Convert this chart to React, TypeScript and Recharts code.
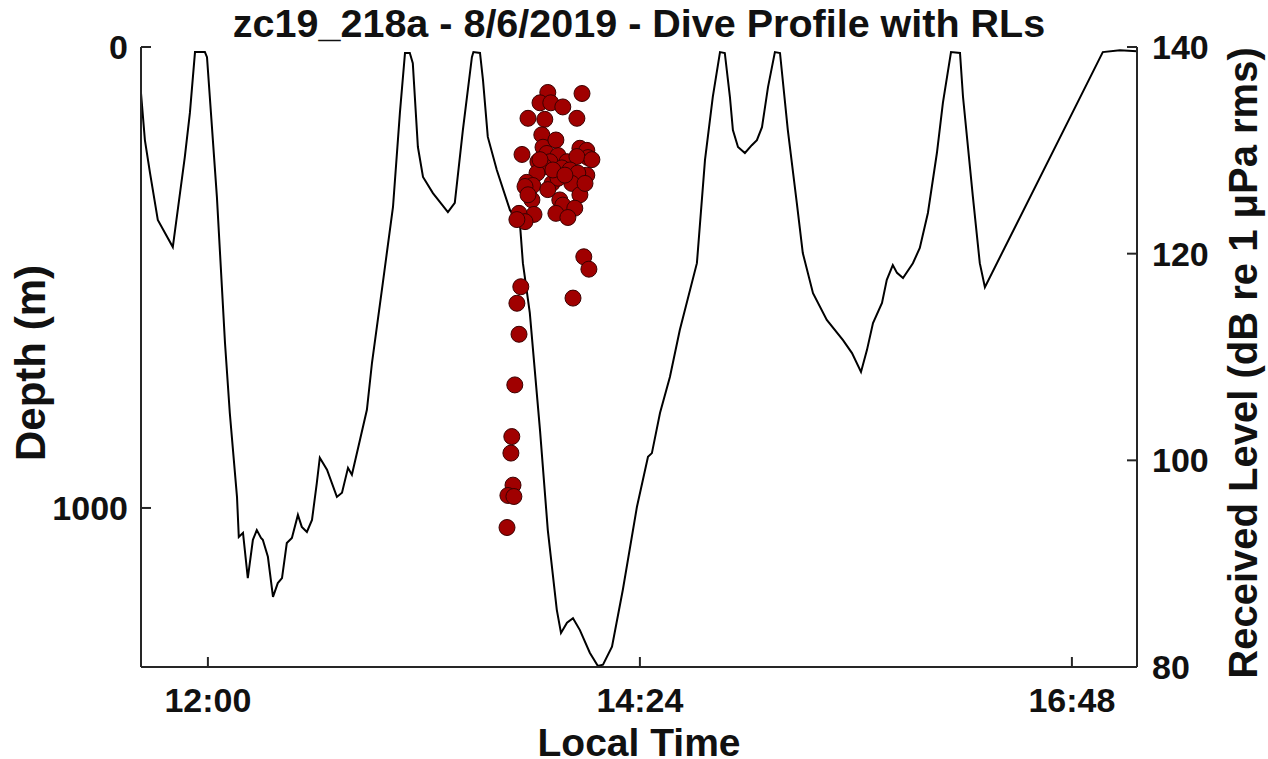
import { ComposedChart, Line, Scatter, XAxis, YAxis } from 'recharts';

// time in minutes after midnight, depth in metres
const diveTimes = [
  697.7, 699, 700.7, 703.3, 708.3, 712.3, 714, 715.7, 719, 719.7, 723, 725.7, 727.3, 729.7, 730.3,
  731.7, 733.3, 735, 736.3, 737.7, 738.3, 740, 741.7, 743.3, 744.7, 746.3, 748, 750, 751.3, 753,
  754.7, 756.3, 757.3, 759.7, 763, 764.7, 766.7, 768, 770.7, 773, 774.7, 778.3, 781.7, 784, 785.7,
  787.3, 788.3, 790, 791.7, 795, 800, 802.3, 805, 808, 808.5, 810.7, 811.7, 813.3, 816.3, 820.7,
  824, 825, 827.3, 830.7, 833.3, 836.3, 837.7, 839.7, 841.7, 844, 847.3, 850, 851.7, 854.7, 858.3,
  863, 866.7, 868, 870.7, 874, 877.3, 883, 885.7, 888.3, 890.7, 892.3, 894, 895, 896.7, 899,
  901.3, 903, 904.7, 906.7, 909, 910.7, 913.3, 916.3, 918.3, 921.7, 926.3, 931.7, 934.7, 937.7, 939.7,
  941.7, 944.7, 946.3, 948.3, 949.7, 951.7, 955, 957.3, 960, 963, 965, 967.7, 970.7, 971.7, 975,
  977.3, 979, 1018.3, 1024, 1029.7,
];
const diveDepths = [
  100, 202, 273, 375, 434, 239, 143, 11, 11, 22, 325, 642, 794, 976, 1063,
  1054, 1152, 1069, 1048, 1065, 1069, 1106, 1193, 1163, 1152, 1076, 1065, 1015, 1041, 1052,
  1026, 946, 891, 917, 976, 967, 913, 928, 852, 787, 685, 512, 347, 143, 13,
  13, 35, 217, 282, 317, 358, 338, 180, 22, 11, 13, 72, 195, 267, 354,
  382, 469, 577, 831, 1048, 1221, 1271, 1249, 1239, 1265, 1314, 1343, 1340, 1301, 1178,
  998, 889, 881, 794, 716, 614, 469, 245, 108, 11, 13, 108, 180, 217, 230,
  213, 202, 174, 87, 11, 13, 180, 338, 447, 534, 592, 636, 664, 705, 657,
  599, 555, 505, 473, 490, 501, 469, 436, 360, 230, 121, 11, 13, 108, 325,
  469, 521, 11, 7, 9,
];

// received levels, dB re 1 uPa rms
const rlTimes = [
  833.3, 844.7, 830.7, 834.3, 838.3, 826.7, 832.3, 843, 831.3, 831.7, 824.7, 844, 846.3, 846.7, 833,
  836.7, 830, 834, 839.7, 843, 832.3, 838, 840.7, 846.3, 829.7, 843.3, 826.3, 828.3, 834.7, 841.3,
  836.7, 825.7, 844, 828, 837.3, 838.3, 842.3, 828.7, 836, 840, 823.7, 825.7, 823, 845.3, 847,
  824.3, 823, 841.7, 823.7, 822.3, 821.3, 821, 821.7, 820, 819.7, 830.7, 835, 839, 833.3, 826.7,
  845.7, 848, 836, 822,
];
const rlLevels = [
  135.6, 135.5, 134.6, 134.6, 134.2, 133.1, 133, 133.1, 131.5, 130.3, 129.6, 130.2, 130, 129.3, 129.7,
  129.5, 128.9, 128.9, 128.9, 129.4, 128.4, 128.3, 128.1, 127.6, 127.8, 127.8, 126.9, 126.6, 126.8, 126.8,
  127.3, 126.5, 125.7, 125.2, 125.2, 124.7, 124.4, 123.8, 123.9, 123.5, 123.9, 123.1, 123.3, 119.7, 118.5,
  116.8, 115.2, 115.7, 112.2, 107.3, 102.3, 100.7, 97.6, 96.6, 93.5, 129.1, 128.1, 127.6, 126.2, 125.7,
  126.8, 129.1, 131, 96.5,
];

const timeTicks = [720, 864, 1008];
const depthTicks = [0, 1000];
const rlTicks = [80, 100, 120, 140];

const profile = diveTimes.map((t, i) => ({ t, depth: diveDepths[i] }));
const levels = rlTimes.map((t, i) => ({ t, rl: rlLevels[i] }));

const fmtTime = (m: number) => `${Math.floor(m / 60)}:${String(Math.round(m % 60)).padStart(2, '0')}`;

const FONT = '"Liberation Sans", Arial, sans-serif';
const AX = '#262626';
const tickStyle = { fill: '#111', fontSize: 34, fontWeight: 700, fontFamily: FONT };

export default function App() {
  return (
    <div style={{ position: 'absolute', left: 0, top: 0, width: 1268, height: 759, background: '#fff', overflow: 'hidden' }}>
      <div
        style={{
          position: 'absolute',
          left: 141,
          width: 996,
          top: 1,
          textAlign: 'center',
          fontFamily: FONT,
          fontWeight: 700,
          fontSize: 39.5,
          color: '#111',
          lineHeight: '44px',
          whiteSpace: 'nowrap',
        }}
      >
        zc19_218a - 8/6/2019 - Dive Profile with RLs
      </div>
      <ComposedChart width={1268} height={759} margin={{ top: 47, right: 0, bottom: 0, left: 0 }}>
        <XAxis
          xAxisId="top"
          orientation="top"
          type="number"
          dataKey="t"
          domain={[697.7, 1029.7]}
          allowDataOverflow
          ticks={timeTicks}
          height={0}
          tick={false}
          tickSize={-10}
          stroke={AX}
          strokeWidth={2}
        />
        <XAxis
          xAxisId="time"
          type="number"
          dataKey="t"
          domain={[697.7, 1029.7]}
          allowDataOverflow
          ticks={timeTicks}
          tickFormatter={fmtTime}
          height={92}
          tickSize={-10}
          tickMargin={31}
          tick={tickStyle}
          stroke={AX}
          strokeWidth={2}
          label={{
            value: 'Local Time',
            position: 'insideBottom',
            offset: 3,
            style: { fill: '#111', fontSize: 39, fontWeight: 700, fontFamily: FONT },
          }}
        />
        <YAxis
          yAxisId="depth"
          type="number"
          dataKey="depth"
          reversed
          domain={[0, 1345]}
          allowDataOverflow
          ticks={depthTicks}
          width={141}
          tickSize={-10}
          tickMargin={23}
          tick={tickStyle}
          stroke={AX}
          strokeWidth={2}
          label={{
            value: 'Depth (m)',
            angle: -90,
            position: 'insideLeft',
            offset: 30,
            dy: 6,
            style: { fill: '#111', fontSize: 42, fontWeight: 700, fontFamily: FONT, textAnchor: 'middle' },
          }}
        />
        <YAxis
          yAxisId="depthMirror"
          orientation="right"
          type="number"
          reversed
          domain={[0, 1345]}
          ticks={depthTicks}
          width={0}
          tick={false}
          tickSize={-10}
          stroke={AX}
          strokeWidth={2}
        />
        <YAxis
          yAxisId="rl"
          orientation="right"
          type="number"
          dataKey="rl"
          domain={[80, 140]}
          allowDataOverflow
          ticks={rlTicks}
          width={131}
          tickSize={-10}
          tickMargin={25}
          tick={tickStyle}
          stroke={AX}
          strokeWidth={2}
          label={{
            value: 'Received Level (dB re 1 \u03bcPa rms)',
            angle: -90,
            position: 'insideRight',
            offset: 25,
            dy: 6,
            style: { fill: '#111', fontSize: 40, fontWeight: 700, fontFamily: FONT, textAnchor: 'middle' },
          }}
        />
        <Line
          data={profile}
          xAxisId="time"
          yAxisId="depth"
          dataKey="depth"
          type="linear"
          stroke="#000"
          strokeWidth={2}
          dot={false}
          isAnimationActive={false}
        />
        <Scatter
          data={levels}
          xAxisId="time"
          yAxisId="rl"
          dataKey="rl"
          fill="#a00000"
          stroke="#3a0000"
          strokeWidth={1}
          shape={(p: any) => <circle cx={p.cx} cy={p.cy} r={8} fill="#a00000" stroke="#3a0000" strokeWidth={1} />}
          isAnimationActive={false}
        />
      </ComposedChart>
    </div>
  );
}
